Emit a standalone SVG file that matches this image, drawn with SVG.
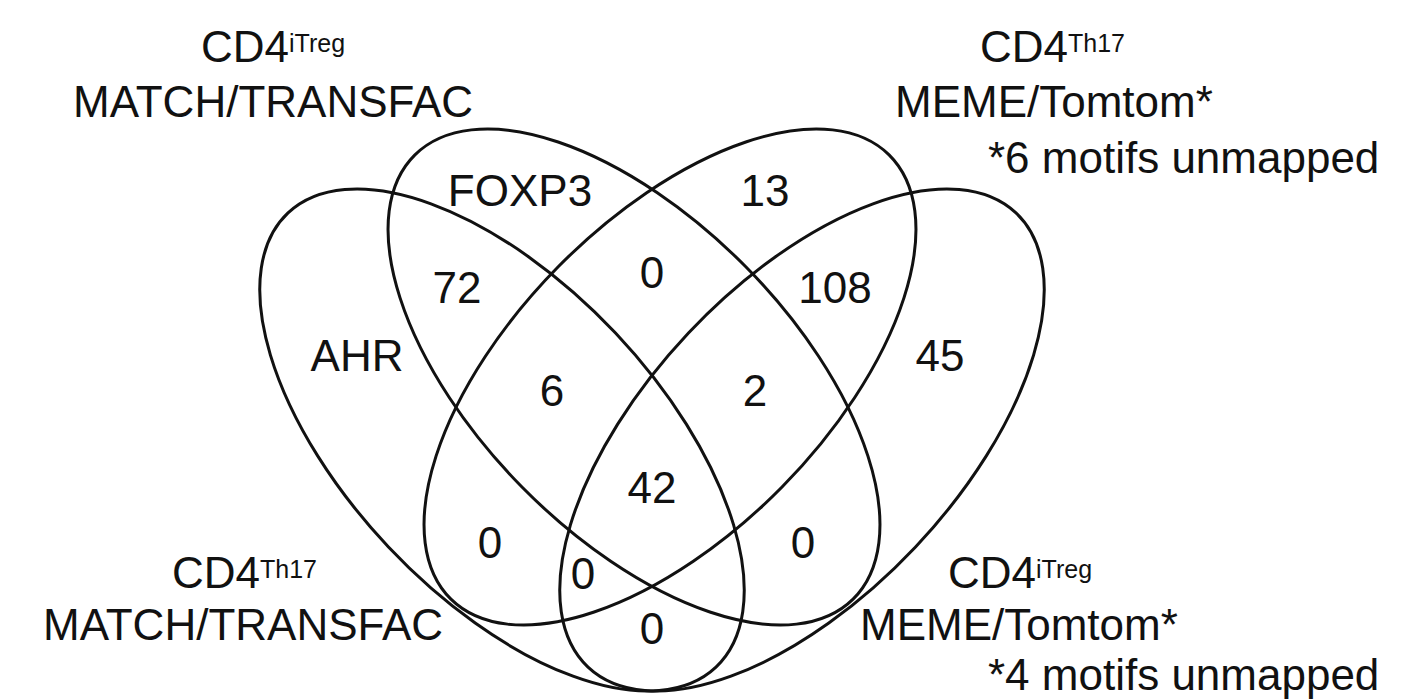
<svg xmlns="http://www.w3.org/2000/svg" width="1404" height="699" viewBox="0 0 1404 699">
<style>
text{font-family:"Liberation Sans",Arial,sans-serif;font-size:44px;fill:#111}
.c{text-anchor:middle}
.s{font-size:25px}
ellipse{fill:none;stroke:#111;stroke-width:3}
</style>
<rect width="1404" height="699" fill="#fff"/>
<g id="connectors">
<ellipse id="A" cx="502" cy="440" rx="312" ry="156" transform="rotate(46.7 502 440)"/>
<ellipse id="B" cx="634" cy="377" rx="312" ry="157" transform="rotate(45.4 634 377)"/>
<ellipse id="C" cx="802" cy="440" rx="312" ry="156" transform="rotate(-46.7 802 440)"/>
<ellipse id="D" cx="670" cy="377" rx="312" ry="157" transform="rotate(-45.4 670 377)"/>
</g>
<g id="labels">
<text x="201" y="62">CD4<tspan class="s" dy="-10">iTreg</tspan></text>
<text x="73" y="117">MATCH/TRANSFAC</text>
<text x="980" y="62">CD4<tspan class="s" dy="-10">Th17</tspan></text>
<text x="895" y="117">MEME/Tomtom*</text>
<text x="988" y="173">*6 motifs unmapped</text>
<text x="172" y="588">CD4<tspan class="s" dy="-10">Th17</tspan></text>
<text x="43" y="640">MATCH/TRANSFAC</text>
<text x="948" y="588">CD4<tspan class="s" dy="-10">iTreg</tspan></text>
<text x="860" y="640">MEME/Tomtom*</text>
<text x="988" y="690">*4 motifs unmapped</text>
</g>
<g id="regions">
<text x="520" y="206" class="c">FOXP3</text>
<text x="765" y="206" class="c">13</text>
<text x="457" y="303" class="c">72</text>
<text x="652" y="288" class="c">0</text>
<text x="835" y="303" class="c">108</text>
<text x="357" y="371" class="c">AHR</text>
<text x="552" y="406" class="c">6</text>
<text x="755" y="406" class="c">2</text>
<text x="940" y="371" class="c">45</text>
<text x="652" y="503" class="c">42</text>
<text x="490" y="558" class="c">0</text>
<text x="583" y="589" class="c">0</text>
<text x="803" y="558" class="c">0</text>
<text x="652" y="644" class="c">0</text>
</g>
</svg>
